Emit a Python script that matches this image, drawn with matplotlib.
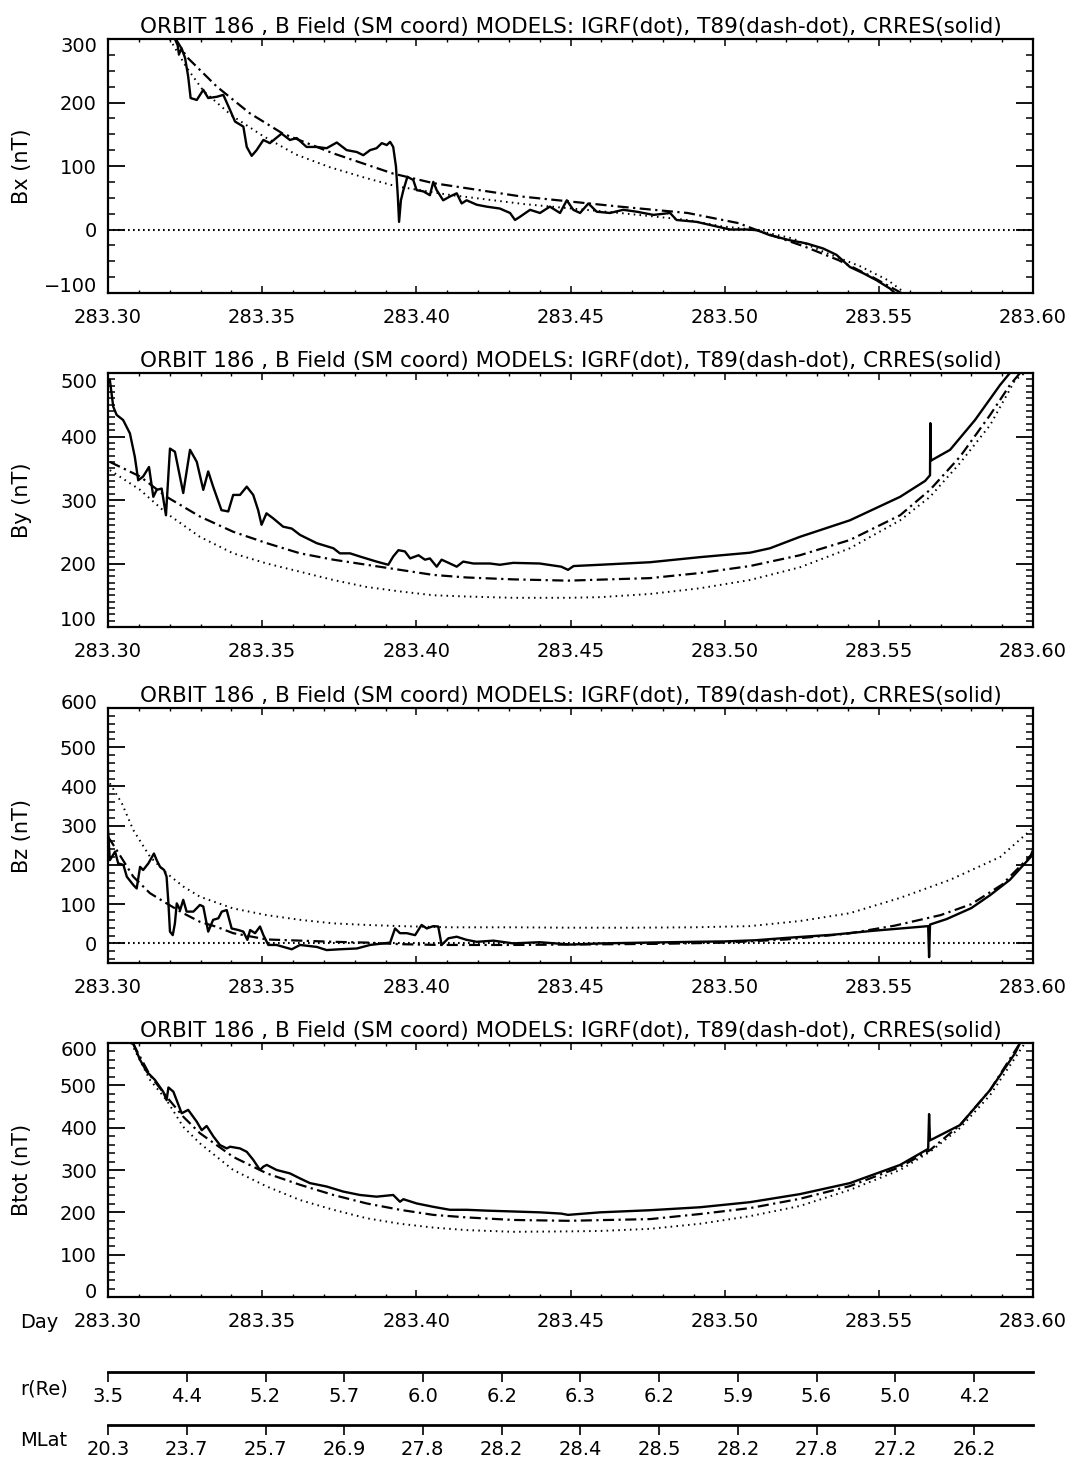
import matplotlib
matplotlib.use('Agg')
import matplotlib.pyplot as plt
import matplotlib.transforms as mtransforms
from matplotlib.ticker import MultipleLocator

# ---------------- data (day of year, nT) ----------------
bx_day = [283.3217, 283.3226, 283.3230, 283.3239, 283.3250, 283.3260, 283.3268, 283.3288, 283.3309,
          283.3325, 283.3353, 283.3374, 283.3396, 283.3412, 283.3439, 283.3450, 283.3466, 283.3482,
          283.3504, 283.3525, 283.3563, 283.3590, 283.3612, 283.3644, 283.3677, 283.3709, 283.3742,
          283.3774, 283.3807, 283.3828, 283.3850, 283.3871, 283.3888, 283.3904, 283.3915, 283.3925,
          283.3934, 283.3940, 283.3944, 283.3950, 283.3958, 283.3971, 283.3990, 283.4001, 283.4023,
          283.4044, 283.4055, 283.4066, 283.4087, 283.4109, 283.4131, 283.4147, 283.4163, 283.4196,
          283.4228, 283.4271, 283.4304, 283.4320, 283.4336, 283.4369, 283.4401, 283.4433, 283.4466,
          283.4488, 283.4509, 283.4531, 283.4558, 283.4585, 283.4628, 283.4671, 283.4715, 283.4769,
          283.4823, 283.4844, 283.4909, 283.4963, 283.5017, 283.5071, 283.5104, 283.5147, 283.5212,
          283.5266, 283.5320, 283.5363, 283.5406, 283.5450, 283.5493, 283.5536, 283.5552]
bx_crres = [300, 290, 276, 285, 270, 241, 207, 204, 220, 207, 209, 212, 188, 170, 162, 130, 116, 125,
            141, 136, 151, 141, 144, 130, 130, 128, 137, 125, 122, 117, 125, 128, 136, 133, 138, 130,
            99, 52, 12, 46, 62, 83, 78, 62, 60, 54, 75, 62, 46, 52, 57, 41, 46, 39,
            36, 33, 26, 15, 20, 31, 26, 36, 26, 46, 31, 26, 41, 28, 26, 31, 28, 23,
            26, 15, 12, 6, 0, 0, -1, -9, -17, -22, -30, -40, -59, -69, -80, -93, -100]
bx_t89_day = [283.3220, 283.3255, 283.3353, 283.3460, 283.3567, 283.3730, 283.3925, 283.4055, 283.4340,
              283.4660, 283.4880, 283.5045, 283.5099, 283.5260, 283.5368, 283.5476, 283.5573]
bx_t89 = [300, 272, 225, 183, 151, 120, 88, 73, 52, 36, 26, 10, 0, -27, -48, -74, -100]
bx_igrf_day = [283.3200, 283.3255, 283.3310, 283.3400, 283.3500, 283.3610, 283.3720, 283.3830, 283.3935,
               283.4100, 283.4350, 283.4660, 283.4880, 283.4990, 283.5090, 283.5220, 283.5330, 283.5440,
               283.5530, 283.5585]
bx_igrf = [300, 255, 218, 180, 148, 118, 98, 82, 68, 55, 40, 26, 15, 5, 0, -14, -37, -58, -80, -100]

by_day = [283.3006, 283.3017, 283.3028, 283.3049, 283.3071, 283.3087, 283.3098, 283.3114, 283.3133,
          283.3147, 283.3158, 283.3174, 283.3188, 283.3201, 283.3217, 283.3244, 283.3266, 283.3288,
          283.3309, 283.3325, 283.3341, 283.3368, 283.3390, 283.3406, 283.3428, 283.3450, 283.3471,
          283.3487, 283.3498, 283.3514, 283.3536, 283.3568, 283.3596, 283.3623, 283.3677, 283.3731,
          283.3752, 283.3785, 283.3817, 283.3871, 283.3909, 283.3925, 283.3942, 283.3963, 283.3980,
          283.4007, 283.4028, 283.4044, 283.4066, 283.4082, 283.4109, 283.4131, 283.4152, 283.4185,
          283.4239, 283.4271, 283.4314, 283.4400, 283.4470, 283.4492, 283.4510, 283.4596, 283.4758,
          283.4920, 283.5082, 283.5147, 283.5244, 283.5406, 283.5569, 283.5650, 283.5666, 283.5667,
          283.5669, 283.5731, 283.5812, 283.5893, 283.5925]
by_crres = [489, 447, 434, 426, 405, 368, 331, 337, 352, 305, 316, 318, 276, 381, 376, 311, 379, 360,
            316, 345, 321, 284, 282, 308, 308, 321, 308, 284, 261, 279, 271, 258, 255, 245, 232, 224,
            216, 216, 211, 203, 198, 211, 221, 219, 208, 213, 206, 208, 195, 206, 200, 195, 203, 200,
            200, 198, 201, 200, 195, 190, 196, 198, 202, 210, 217, 224, 242, 268, 305, 330, 339, 421,
            362, 379, 426, 481, 500]
by_t89_day = [283.3006, 283.3104, 283.3190, 283.3298, 283.3406, 283.3515, 283.3623, 283.3731, 283.3839,
              283.3947, 283.4055, 283.4163, 283.4314, 283.4492, 283.4758, 283.4920, 283.5082, 283.5244,
              283.5406, 283.5569, 283.5666, 283.5763, 283.5861, 283.5925, 283.5958]
by_t89 = [360, 337, 305, 274, 250, 232, 216, 206, 198, 190, 182, 178, 175, 173, 177, 185, 196, 213,
          237, 276, 316, 368, 434, 481, 500]
by_igrf_day = [283.3006, 283.3104, 283.3190, 283.3298, 283.3406, 283.3515, 283.3623, 283.3731, 283.3839,
               283.3947, 283.4055, 283.4163, 283.4314, 283.4492, 283.4596, 283.4758, 283.4920, 283.5082,
               283.5244, 283.5406, 283.5569, 283.5666, 283.5763, 283.5861, 283.5942, 283.5974]
by_igrf = [347, 316, 279, 242, 216, 200, 187, 174, 163, 156, 150, 148, 146, 146, 147, 152, 161, 174,
           194, 224, 268, 305, 358, 418, 489, 500]

bz_day = [283.3000, 283.3006, 283.3023, 283.3033, 283.3050, 283.3061, 283.3082, 283.3093, 283.3104,
          283.3114, 283.3131, 283.3149, 283.3158, 283.3169, 283.3182, 283.3190, 283.3196, 283.3201,
          283.3210, 283.3217, 283.3223, 283.3234, 283.3244, 283.3255, 283.3277, 283.3298, 283.3309,
          283.3325, 283.3341, 283.3358, 283.3369, 283.3385, 283.3401, 283.3423, 283.3439, 283.3452,
          283.3461, 283.3477, 283.3493, 283.3504, 283.3520, 283.3547, 283.3569, 283.3596, 283.3623,
          283.3677, 283.3709, 283.3752, 283.3807, 283.3850, 283.3915, 283.3931, 283.3947, 283.3969,
          283.3996, 283.4017, 283.4034, 283.4055, 283.4071, 283.4082, 283.4104, 283.4131, 283.4163,
          283.4196, 283.4250, 283.4314, 283.4400, 283.4500, 283.4600, 283.4750, 283.4900, 283.5000,
          283.5100, 283.5200, 283.5350, 283.5480, 283.5600, 283.5660, 283.5663, 283.5666, 283.5720,
          283.5800, 283.5861, 283.5925, 283.5990, 283.6000]
bz_crres = [289, 212, 234, 204, 200, 170, 149, 140, 195, 187, 204, 229, 212, 195, 187, 170, 102, 30,
            21, 51, 102, 85, 111, 81, 81, 98, 94, 30, 60, 64, 81, 85, 38, 34, 30, 9,
            34, 26, 43, 21, -4, -4, -9, -15, -4, -9, -17, -15, -13, -4, 2, 38, 26, 26,
            21, 47, 38, 44, 43, -4, 13, 17, 9, 4, 7, 0, 3, -3, 0, 2, 4, 5,
            8, 14, 22, 32, 40, 44, -35, 48, 62, 90, 123, 162, 218, 238]
bz_t89_day = [283.3000, 283.3028, 283.3082, 283.3136, 283.3190, 283.3244, 283.3298, 283.3353, 283.3406,
              283.3515, 283.3623, 283.3731, 283.3839, 283.3947, 283.4077, 283.4314, 283.4500, 283.4800,
              283.5000, 283.5200, 283.5400, 283.5550, 283.5700, 283.5800, 283.5900, 283.6000]
bz_t89 = [272, 238, 170, 128, 102, 77, 55, 42, 26, 10, 7, 4, 2, -2, -4, -4, -3, -1,
          2, 10, 25, 45, 72, 100, 150, 230]
bz_igrf_day = [283.3006, 283.3045, 283.3082, 283.3136, 283.3190, 283.3244, 283.3298, 283.3406, 283.3515,
               283.3623, 283.3731, 283.3839, 283.3947, 283.4109, 283.4314, 283.4500, 283.4700, 283.4900,
               283.5082, 283.5244, 283.5406, 283.5569, 283.5731, 283.5893, 283.6000]
bz_igrf = [408, 357, 289, 221, 179, 145, 119, 89, 72, 60, 51, 47, 44, 41, 41, 40, 40, 41,
           44, 57, 77, 116, 162, 220, 294]

bt_day = [283.3082, 283.3104, 283.3126, 283.3152, 283.3179, 283.3190, 283.3196, 283.3212, 283.3239,
          283.3260, 283.3288, 283.3304, 283.3320, 283.3342, 283.3363, 283.3385, 283.3396, 283.3428,
          283.3450, 283.3471, 283.3493, 283.3504, 283.3515, 283.3547, 283.3590, 283.3623, 283.3655,
          283.3709, 283.3763, 283.3817, 283.3871, 283.3925, 283.3947, 283.3958, 283.4001, 283.4055,
          283.4109, 283.4163, 283.4228, 283.4314, 283.4400, 283.4470, 283.4492, 283.4596, 283.4758,
          283.4920, 283.5082, 283.5244, 283.5406, 283.5569, 283.5660, 283.5663, 283.5666, 283.5763,
          283.5861, 283.5942, 283.5958]
bt_crres = [599, 560, 532, 513, 485, 465, 495, 485, 434, 442, 414, 394, 404, 379, 359, 351, 355, 351,
            343, 324, 300, 308, 312, 300, 292, 280, 269, 261, 249, 241, 237, 241, 225, 231, 221, 213,
            206, 206, 204, 202, 200, 197, 194, 200, 205, 212, 224, 243, 269, 312, 350, 432, 370, 406,
            489, 576, 600]
bt_t89_day = [283.3080, 283.3136, 283.3190, 283.3244, 283.3298, 283.3406, 283.3515, 283.3623, 283.3731,
              283.3839, 283.3947, 283.4055, 283.4163, 283.4314, 283.4492, 283.4758, 283.4920, 283.5082,
              283.5244, 283.5406, 283.5569, 283.5666, 283.5763, 283.5861, 283.5958]
bt_t89 = [600, 524, 473, 426, 387, 331, 292, 265, 241, 221, 206, 194, 188, 182, 180, 184, 196, 210,
          232, 262, 307, 347, 406, 489, 600]
bt_igrf_day = [283.3075, 283.3136, 283.3190, 283.3244, 283.3298, 283.3406, 283.3515, 283.3623, 283.3731,
               283.3839, 283.3947, 283.4055, 283.4163, 283.4314, 283.4492, 283.4596, 283.4758, 283.4920,
               283.5082, 283.5244, 283.5406, 283.5569, 283.5666, 283.5763, 283.5861, 283.5974]
bt_igrf = [600, 513, 465, 402, 363, 300, 261, 229, 206, 186, 173, 164, 158, 154, 155, 156, 161, 173,
           191, 215, 253, 300, 343, 399, 477, 600]

# orbit position annotation axes
pos_ticks = [283.3000, 283.3255, 283.3511, 283.3766, 283.4021, 283.4277, 283.4532, 283.4787,
             283.5043, 283.5298, 283.5553, 283.5809]
r_re = ['3.5', '4.4', '5.2', '5.7', '6.0', '6.2', '6.3', '6.2', '5.9', '5.6', '5.0', '4.2']
mlat = ['20.3', '23.7', '25.7', '26.9', '27.8', '28.2', '28.4', '28.5', '28.2', '27.8', '27.2', '26.2']

day_ticks = [283.30, 283.35, 283.40, 283.45, 283.50, 283.55, 283.60]

title = 'ORBIT 186 , B Field (SM coord) MODELS: IGRF(dot), T89(dash-dot), CRRES(solid)'

W, H = 1073, 1461
fig = plt.figure(figsize=(W / 100, H / 100), dpi=100)
fig.patch.set_facecolor('white')

left = 108 / W
width = 925 / W

panels = [
    # top px, bottom px, ylabel, ylim, major, minor, zero line, data, label nudges (value, px)
    (39, 293, 'Bx (nT)', (-100, 300), 100, 25, True,
     (bx_day, bx_crres, bx_t89_day, bx_t89, bx_igrf_day, bx_igrf), {300: -8, -100: 7}),
    (373, 627, 'By (nT)', (100, 500), 100, 10, False,
     (by_day, by_crres, by_t89_day, by_t89, by_igrf_day, by_igrf), {500: -9, 100: 7}),
    (708, 963, 'Bz (nT)', (-50, 600), 100, 20, True,
     (bz_day, bz_crres, bz_t89_day, bz_t89, bz_igrf_day, bz_igrf), {600: 5}),
    (1043, 1297, 'Btot (nT)', (0, 600), 100, 20, False,
     (bt_day, bt_crres, bt_t89_day, bt_t89, bt_igrf_day, bt_igrf), {600: -7, 0: 5}),
]

dashdot = (0, (5, 2, 1, 2))
dotted = (0, (0.8, 2.2))

for top, bot, ylab, ylim, major, minor, zero, data, nudges in panels:
    ax = fig.add_axes([left, 1 - bot / H, width, (bot - top) / H])
    d, crres, td, t89, gd, igrf = data
    ax.plot(gd, igrf, color='black', lw=1.4, linestyle=dotted)
    ax.plot(td, t89, color='black', lw=1.6, linestyle=dashdot)
    ax.plot(d, crres, color='black', lw=1.7)
    if zero:
        ax.axhline(0, color='black', lw=1.5, linestyle=(0, (0.8, 1.6)))

    ax.set_xlim(283.30, 283.60)
    ax.set_ylim(*ylim)
    ax.set_xticks(day_ticks)
    ax.set_xticklabels(['%.2f' % t for t in day_ticks])
    ax.xaxis.set_minor_locator(MultipleLocator(0.01))
    ax.yaxis.set_minor_locator(MultipleLocator(minor))
    yt = [v for v in range(ylim[0], ylim[1] + 1) if v % major == 0]
    ax.set_yticks(yt)
    ax.set_yticklabels(['' if v in nudges else str(v) for v in yt])
    ax.tick_params(axis='y', which='major', direction='in', length=12, width=1.3,
                   left=True, right=True, labelsize=14, pad=8)
    ax.tick_params(axis='y', which='minor', direction='in', length=5, width=1.1,
                   left=True, right=True)
    ax.tick_params(axis='x', which='major', direction='in', length=5, width=1.1,
                   top=True, bottom=True, labelsize=14, pad=11)
    ax.tick_params(axis='x', which='minor', direction='in', length=2.5, width=1.0,
                   top=True, bottom=True)
    for s in ax.spines.values():
        s.set_linewidth(1.6)
    ax.set_title(title, fontsize=15.5, pad=4)
    ax.set_ylabel(ylab, fontsize=15)
    ax.yaxis.set_label_coords(-0.082, 0.5)

    # IDL-style: edge labels pulled inside the axis range
    for val, dy in nudges.items():
        tr = ax.get_yaxis_transform() + mtransforms.ScaledTranslation(-11 / 100, dy / 100,
                                                                      fig.dpi_scale_trans)
        ax.text(0, val, str(val).replace('-', '\u2212'), transform=tr, ha='right', va='center',
                fontsize=14)

fig.text(20 / W, 1 - 1322 / H, 'Day', fontsize=14, va='center', ha='left')

for ypx, lab, vals, lab_y in [(1372, 'r(Re)', r_re, 1389), (1425, 'MLat', mlat, 1440)]:
    a = fig.add_axes([left, 1 - ypx / H, width, 0.0001])
    a.set_xlim(283.30, 283.60)
    for s in ['left', 'right', 'top']:
        a.spines[s].set_visible(False)
    a.spines['bottom'].set_linewidth(2)
    a.set_yticks([])
    a.set_xticks(pos_ticks)
    a.set_xticklabels(vals)
    a.tick_params(axis='x', direction='out', length=7, width=1.2, labelsize=14, pad=4)
    a.patch.set_visible(False)
    fig.text(20 / W, 1 - lab_y / H, lab, fontsize=14, va='center', ha='left')

fig.savefig('out.png', dpi=100, facecolor='white')
